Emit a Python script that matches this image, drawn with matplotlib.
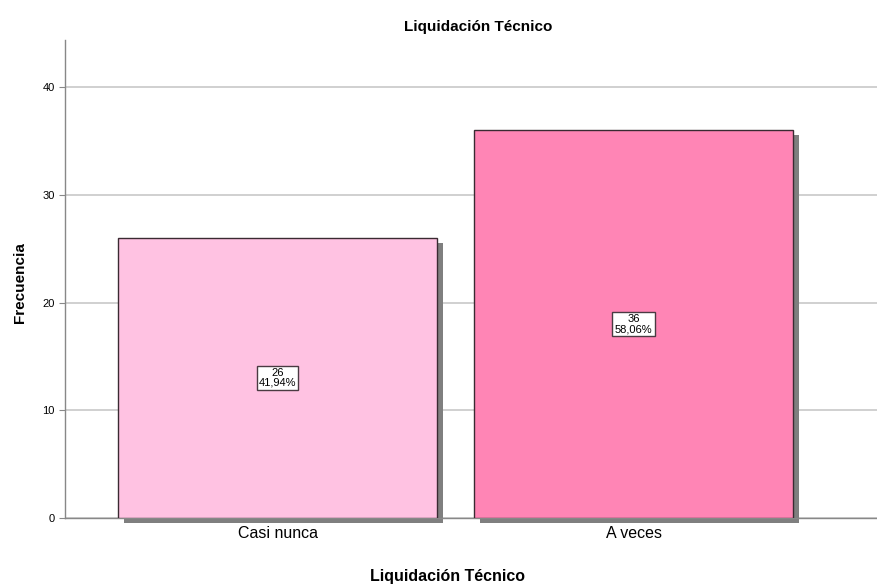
import matplotlib
matplotlib.use("Agg")
import matplotlib.pyplot as plt
import matplotlib.transforms as mtransforms

plt.rcParams['font.family'] = ['Liberation Sans', 'DejaVu Sans']

categories = ["Casi nunca", "A veces"]
counts = [26, 36]
percents = ["41,94%", "58,06%"]
colors = ["#FFC2E2", "#FF85B5"]

fig = plt.figure(figsize=(8.77, 5.88), dpi=100)
ax = fig.add_axes([65/877, 1-518/588, 1-65/877, 478/588])

x = list(range(len(categories)))
width = 0.896

shadow_tr = ax.transData + mtransforms.ScaledTranslation(6/100, -5/100, fig.dpi_scale_trans)
ax.bar(x, counts, width=width, color="#7f7f7f", edgecolor="none",
       transform=shadow_tr, zorder=2, clip_on=False)
ax.bar(x, counts, width=width, color=colors, edgecolor="#3a2a32",
       linewidth=1.0, zorder=3)

for xi, c, p in zip(x, counts, percents):
    ax.text(xi, c/2, f"{c}\n{p}", ha="center", va="center", fontsize=8,
            linespacing=0.95, zorder=5,
            bbox=dict(boxstyle="square,pad=0.2", facecolor="white",
                      edgecolor="#4a3a42", linewidth=1.0))

ax.set_xlim(-0.597, 1.684)
ax.set_ylim(0, 44.4)
ax.set_yticks([0, 10, 20, 30, 40])
ax.set_xticks(x)
ax.set_xticklabels(categories, fontsize=11.5)
ax.tick_params(axis='y', labelsize=8, length=4, color="#888888")
ax.tick_params(axis='x', length=0, pad=6)
ax.yaxis.grid(True, color="#c8c8c8", linewidth=1.2, zorder=0)
ax.set_axisbelow(True)
for s in ["top", "right"]:
    ax.spines[s].set_visible(False)
for s in ["left", "bottom"]:
    ax.spines[s].set_color("#888888")
    ax.spines[s].set_linewidth(1.0)

ax.set_ylabel("Frecuencia", fontsize=11, fontweight="bold")
ax.yaxis.set_label_coords((27-65)/812, (518-283)/478)
ax.set_xlabel("Liquidación Técnico", fontsize=11.5, fontweight="bold")
ax.xaxis.set_label_coords((447-65)/812, (518-569)/478)
fig.text(478/877, 1-27/588, "Liquidación Técnico", ha="center", va="center",
         fontsize=11, fontweight="bold")

fig.savefig("out.png", dpi=100, facecolor="white")
